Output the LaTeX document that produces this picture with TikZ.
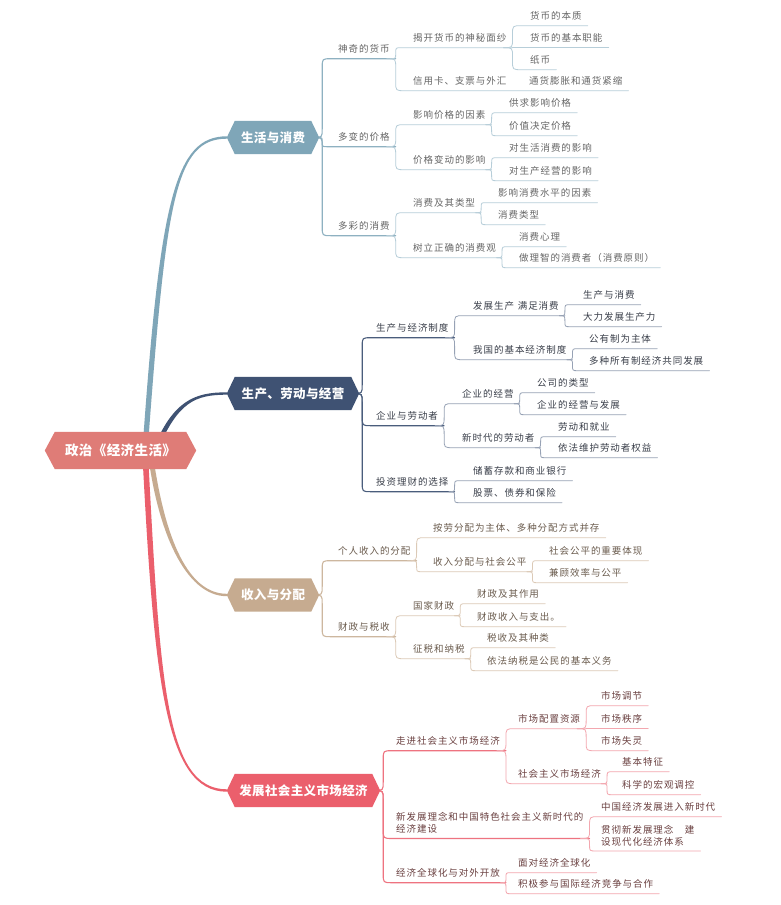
\documentclass[tikz,border=0pt]{standalone}
\usepackage{fontspec}
\newfontfamily\cjk{Noto Sans CJK SC}[LetterSpace=10]
\newfontfamily\cjkm{Noto Sans CJK SC}[LetterSpace=3]
\usetikzlibrary{calc}
\pgfdeclarelayer{bg}\pgfdeclarelayer{mid}\pgfsetlayers{bg,mid,main}
\definecolor{mainA}{HTML}{7FA6B8}
\definecolor{mainB}{HTML}{3F5273}
\definecolor{mainC}{HTML}{C6AB90}
\definecolor{mainD}{HTML}{EB5F6C}
\definecolor{rootc}{HTML}{DF7C77}
\definecolor{lnA2}{HTML}{8EB1C1}
\definecolor{lnA3}{HTML}{B7CED9}
\definecolor{lnB2}{HTML}{4A5D7C}
\definecolor{lnB3}{HTML}{97A2B5}
\definecolor{lnC2}{HTML}{CDB79F}
\definecolor{lnC3}{HTML}{DCCAB7}
\definecolor{lnD2}{HTML}{EE7380}
\definecolor{lnD3}{HTML}{F3A7AF}
\definecolor{txA}{HTML}{666666}
\definecolor{txB}{HTML}{3A3F4A}
\definecolor{txC}{HTML}{6B5C4E}
\definecolor{txD}{HTML}{6A4040}
\newcommand\sfnt{\cjk\fontsize{9.5pt}{12pt}\selectfont}
\newcommand\mfnt{\cjkm\bfseries\fontsize{12.5pt}{15pt}\selectfont}
\newcommand\rfnt{\cjkm\bfseries\fontsize{13.5pt}{16pt}\selectfont}
\tikzset{
  lab/.style={anchor=west, inner sep=0pt, font=\sfnt, text height=8.3pt, text depth=1.1pt},
  labtwo/.style={anchor=west, inner sep=0pt, font=\sfnt, align=left},
  tA/.style={lab, text=txA}, tB/.style={lab, text=txB},
  tC/.style={lab, text=txC}, tD/.style={lab, text=txD},
  mainlab/.style={inner sep=0pt, minimum height=33pt, text=white, font=\mfnt},
  lA2/.style={lnA2, line width=1.1pt}, lA3/.style={lnA3, line width=0.8pt},
  lB2/.style={lnB2, line width=1.1pt}, lB3/.style={lnB3, line width=0.8pt},
  lC2/.style={lnC2, line width=1.1pt}, lC3/.style={lnC3, line width=0.8pt},
  lD2/.style={lnD2, line width=1.1pt}, lD3/.style={lnD3, line width=0.8pt},
}
% text node with underline end coordinate
\newcommand\tn[4]{\node[#1] (#2) at (#3) {#4};
  \coordinate (#2-u) at ($(#2.south east)+(6,4.8)$);}
% main hexagon node
\newcommand\mn[6]{\node[mainlab, minimum width=#4pt] (#2) at (#3) {#6};
  \begin{pgfonlayer}{mid}
  \fill[#1] (#2.west) -- ([xshift=#5pt]#2.north west) -- ([xshift=-#5pt]#2.north east)
     -- (#2.east) -- ([xshift=-#5pt]#2.south east) -- ([xshift=#5pt]#2.south west) -- cycle;
  \end{pgfonlayer}
  \coordinate (#2-u) at ($(#2.east)+(3,0)$);}
% bracket link: parent underline end -> child underline (ending under end node)
\newcommand\lk[4][]{%
  \draw[line cap=round,#1] let \p1=(#2), \p2=($(#3.south)+(0,4.8)$), \p3=($(#4.south east)+(6,0)$),
     \n1={max(-9pt,min(9pt,(\y2-\y1)/2))}, \n2={abs(\n1)} in
     ({\x1-\n2},\y1) .. controls (\x1,\y1) .. (\x1,{\y1+\n1}) -- (\x1,{\y2-\n1})
     .. controls (\x1,\y2) .. ({\x1+\n2},\y2) -- (\x3,\y2);}
\begin{document}
\begin{tikzpicture}[x=1pt,y=-1pt]
\useasboundingbox (0,0) rectangle (780,905);
\begin{pgfonlayer}{bg}\fill[white] (0,0) rectangle (780,905);\end{pgfonlayer}

% root
\node[mainlab, minimum width=151pt, minimum height=37pt, font=\rfnt] (r) at (120.5,450.5) {政治《经济生活》};
\begin{pgfonlayer}{mid}
\fill[rootc] (r.west) -- ([xshift=10pt]r.north west) -- ([xshift=-10pt]r.north east)
  -- (r.east) -- ([xshift=-10pt]r.south east) -- ([xshift=10pt]r.south west) -- cycle;
\end{pgfonlayer}

% main branches
\mn{mainA}{a}{273,137.5}{92}{8}{生活与消费}
\mn{mainB}{b}{293,393.5}{132}{8}{生产、劳动与经营}
\mn{mainC}{c}{273,595}{92}{8}{收入与分配}
\mn{mainD}{d}{303.5,790.5}{153}{8}{发展社会主义市场经济}

\coordinate (ra) at ($(r.center)+(24.5,0)$);
\coordinate (rb) at ($(r.center)+(34.5,0)$);
\coordinate (rc) at ($(r.center)+(29.5,0)$);
\coordinate (rd) at ($(r.center)+(24.5,0)$);
\begin{pgfonlayer}{bg}
\fill[mainA] ($(ra)+(-2.6,0)$) .. controls (160,200) and (175,136.3) .. ($(a.west)+(0,-1.2)$)
  -- ($(a.west)+(0,1.2)$) .. controls (175,138.7) and (166,200) .. ($(ra)+(2.6,0)$) -- cycle;
\fill[mainB] ($(rb)+(-2.4,0)$) .. controls (173,400) and (195,392.3) .. ($(b.west)+(0,-1.2)$)
  -- ($(b.west)+(0,1.2)$) .. controls (195,394.7) and (178,402) .. ($(rb)+(2.4,0)$) -- cycle;
\fill[mainC] ($(rc)+(-2.4,0)$) .. controls (157,530) and (185,596.2) .. ($(c.west)+(0,1.2)$)
  -- ($(c.west)+(0,-1.2)$) .. controls (185,593.8) and (163,530) .. ($(rc)+(2.4,0)$) -- cycle;
\fill[mainD] ($(rd)+(-2.8,0)$) .. controls (154,680) and (165,791.7) .. ($(d.west)+(0,1.2)$)
  -- ($(d.west)+(0,-1.2)$) .. controls (165,789.3) and (160,680) .. ($(rd)+(2.8,0)$) -- cycle;
\end{pgfonlayer}

% ---------- branch A ----------
\tn{tA}{a1}{338,49}{神奇的货币}
\tn{tA}{a2}{338,137}{多变的价格}
\tn{tA}{a3}{338,226}{多彩的消费}
\tn{tA}{a11}{413,38}{揭开货币的神秘面纱}
\tn{tA}{a12}{413,81}{信用卡、支票与外汇}
\tn{tA}{a111}{530,16}{货币的本质}
\tn{tA}{a112}{530,38}{货币的基本职能}
\tn{tA}{a113}{530,60}{纸币}
\tn{tA}{a121}{529,81}{通货膨胀和通货紧缩}
\tn{tA}{a21}{413,115}{影响价格的因素}
\tn{tA}{a22}{413,160}{价格变动的影响}
\tn{tA}{a211}{509,103}{供求影响价格}
\tn{tA}{a212}{509,126}{价值决定价格}
\tn{tA}{a221}{509,148}{对生活消费的影响}
\tn{tA}{a222}{509,171}{对生产经营的影响}
\tn{tA}{a31}{413,203}{消费及其类型}
\tn{tA}{a32}{413,248}{树立正确的消费观}
\tn{tA}{a311}{498,193}{影响消费水平的因素}
\tn{tA}{a312}{498,215}{消费类型}
\tn{tA}{a321}{519,237}{消费心理}
\tn{tA}{a322}{519,258}{做理智的消费者（消费原则）}

% ---------- branch B ----------
\tn{tB}{b1}{376,328}{生产与经济制度}
\tn{tB}{b2}{376,416}{企业与劳动者}
\tn{tB}{b3}{376,482}{投资理财的选择}
\tn{tB}{b11}{473,306}{发展生产\hspace{0.4em}满足消费}
\tn{tB}{b12}{473,350}{我国的基本经济制度}
\tn{tB}{b111}{583,295}{生产与消费}
\tn{tB}{b112}{583,317}{大力发展生产力}
\tn{tB}{b121}{589,339}{公有制为主体}
\tn{tB}{b122}{589,361}{多种所有制经济共同发展}
\tn{tB}{b21}{462,394}{企业的经营}
\tn{tB}{b22}{462,438}{新时代的劳动者}
\tn{tB}{b211}{537,383}{公司的类型}
\tn{tB}{b212}{537,405}{企业的经营与发展}
\tn{tB}{b221}{558,427}{劳动和就业}
\tn{tB}{b222}{558,448}{依法维护劳动者权益}
\tn{tB}{b31}{473,471}{储蓄存款和商业银行}
\tn{tB}{b32}{473,493}{股票、债券和保险}

% ---------- branch C ----------
\tn{tC}{c1}{338,551}{个人收入的分配}
\tn{tC}{c2}{338,627}{财政与税收}
\tn{tC}{c11}{433,528}{按劳分配为主体、多种分配方式并存}
\tn{tC}{c12}{433,562}{收入分配与社会公平}
\tn{tC}{c121}{549,551}{社会公平的重要体现}
\tn{tC}{c122}{549,573}{兼顾效率与公平}
\tn{tC}{c21}{413,606}{国家财政}
\tn{tC}{c22}{413,649}{征税和纳税}
\tn{tC}{c211}{477,594}{财政及其作用}
\tn{tC}{c212}{477,617}{财政收入与支出。}
\tn{tC}{c221}{487,638}{税收及其种类}
\tn{tC}{c222}{487,661}{依法纳税是公民的基本义务}

% ---------- branch D ----------
\tn{tD}{d1}{396,741}{走进社会主义市场经济}
\tn{labtwo,text=txD}{d2}{396,823}{新发展理念和中国特色社会主义新时代的\\经济建设}
\tn{tD}{d3}{396,873}{经济全球化与对外开放}
\tn{tD}{d11}{518,719}{市场配置资源}
\tn{tD}{d12}{518,774}{社会主义市场经济}
\tn{tD}{d111}{601,696}{市场调节}
\tn{tD}{d112}{601,719}{市场秩序}
\tn{tD}{d113}{601,741}{市场失灵}
\tn{tD}{d121}{622,762}{基本特征}
\tn{tD}{d122}{622,785}{科学的宏观调控}
\tn{tD}{d21}{601,807}{中国经济发展进入新时代}
\tn{labtwo,text=txD}{d22}{601,835.5}{贯彻新发展理念　建\\设现代化经济体系}
\tn{tD}{d31}{518,863}{面对经济全球化}
\tn{tD}{d32}{518,884}{积极参与国际经济竞争与合作}

\begin{pgfonlayer}{bg}
% A links
\lk[lA2]{a-u}{a1}{a1}\lk[lA2]{a-u}{a2}{a2}\lk[lA2]{a-u}{a3}{a3}
\lk[lA3]{a1-u}{a11}{a11}\lk[lA3]{a1-u}{a12}{a121}
\lk[lA3]{a11-u}{a111}{a111}\lk[lA3]{a11-u}{a112}{a112}\lk[lA3]{a11-u}{a113}{a113}
\lk[lA3]{a2-u}{a21}{a21}\lk[lA3]{a2-u}{a22}{a22}
\lk[lA3]{a21-u}{a211}{a211}\lk[lA3]{a21-u}{a212}{a212}
\lk[lA3]{a22-u}{a221}{a221}\lk[lA3]{a22-u}{a222}{a222}
\lk[lA3]{a3-u}{a31}{a31}\lk[lA3]{a3-u}{a32}{a32}
\lk[lA3]{a31-u}{a311}{a311}\lk[lA3]{a31-u}{a312}{a312}
\lk[lA3]{a32-u}{a321}{a321}\lk[lA3]{a32-u}{a322}{a322}
% B links
\lk[lB2]{b-u}{b1}{b1}\lk[lB2]{b-u}{b2}{b2}\lk[lB2]{b-u}{b3}{b3}
\lk[lB3]{b1-u}{b11}{b11}\lk[lB3]{b1-u}{b12}{b12}
\lk[lB3]{b11-u}{b111}{b111}\lk[lB3]{b11-u}{b112}{b112}
\lk[lB3]{b12-u}{b121}{b121}\lk[lB3]{b12-u}{b122}{b122}
\lk[lB3]{b2-u}{b21}{b21}\lk[lB3]{b2-u}{b22}{b22}
\lk[lB3]{b21-u}{b211}{b211}\lk[lB3]{b21-u}{b212}{b212}
\lk[lB3]{b22-u}{b221}{b221}\lk[lB3]{b22-u}{b222}{b222}
\lk[lB3]{b3-u}{b31}{b31}\lk[lB3]{b3-u}{b32}{b32}
% C links
\lk[lC2]{c-u}{c1}{c1}\lk[lC2]{c-u}{c2}{c2}
\lk[lC3]{c1-u}{c11}{c11}\lk[lC3]{c1-u}{c12}{c12}
\lk[lC3]{c12-u}{c121}{c121}\lk[lC3]{c12-u}{c122}{c122}
\lk[lC3]{c2-u}{c21}{c21}\lk[lC3]{c2-u}{c22}{c22}
\lk[lC3]{c21-u}{c211}{c211}\lk[lC3]{c21-u}{c212}{c212}
\lk[lC3]{c22-u}{c221}{c221}\lk[lC3]{c22-u}{c222}{c222}
% D links
\lk[lD2]{d-u}{d1}{d1}\lk[lD2]{d-u}{d2}{d2}\lk[lD2]{d-u}{d3}{d3}
\lk[lD3]{d1-u}{d11}{d11}\lk[lD3]{d1-u}{d12}{d12}
\lk[lD3]{d11-u}{d111}{d111}\lk[lD3]{d11-u}{d112}{d112}\lk[lD3]{d11-u}{d113}{d113}
\lk[lD3]{d12-u}{d121}{d121}\lk[lD3]{d12-u}{d122}{d122}
\lk[lD3]{d2-u}{d21}{d21}\lk[lD3]{d2-u}{d22}{d22}
\lk[lD3]{d3-u}{d31}{d31}\lk[lD3]{d3-u}{d32}{d32}
\end{pgfonlayer}
\end{tikzpicture}
\end{document}
